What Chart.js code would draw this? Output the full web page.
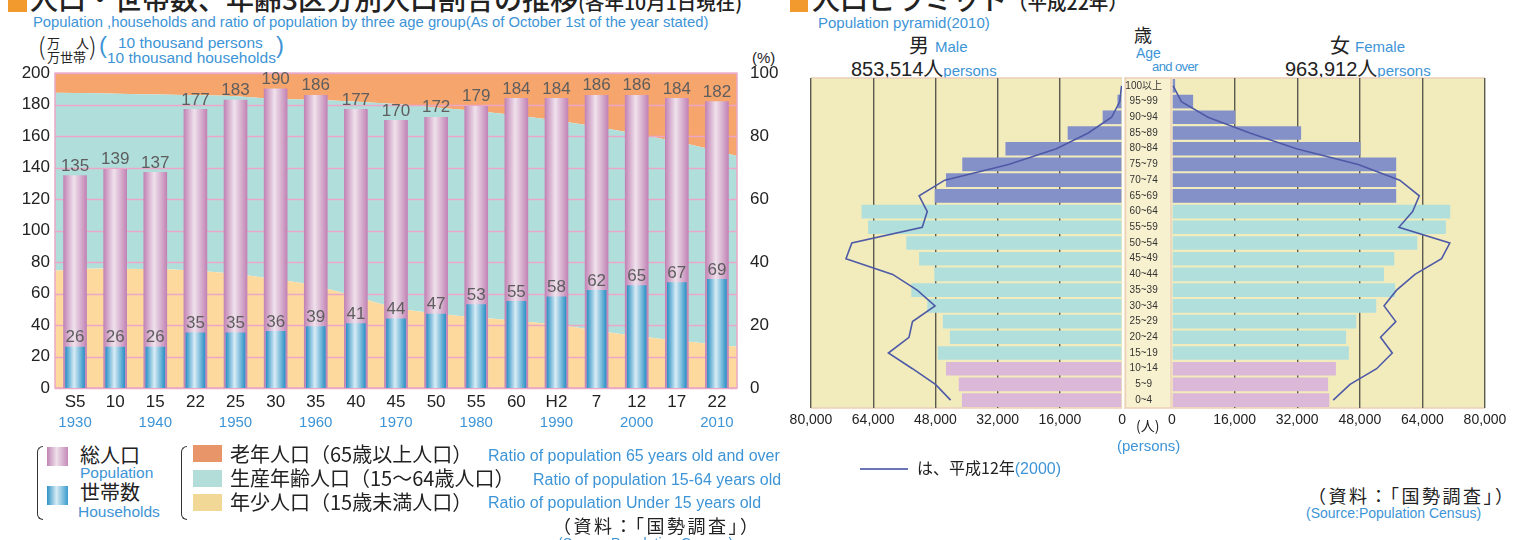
<!DOCTYPE html>
<html>
<head>
<meta charset="utf-8">
<script src="https://cdn.jsdelivr.net/npm/chart.js@4.4.0/dist/chart.umd.min.js"></script>
<style>
body{margin:0;width:1526px;height:540px;overflow:hidden;background:#fff;position:relative;
  font-family:"Liberation Sans",Arial,"Noto Sans CJK JP",sans-serif;color:#222}
.t{position:absolute;white-space:nowrap;line-height:1}
.jp{font-family:"Noto Sans CJK JP",sans-serif}
.bl{color:#3d94d6}
.box{position:absolute}
.sq{position:absolute;background:#f39a2e}
.brk{position:absolute;border:1.5px solid #333;border-right:none;border-radius:7px 0 0 7px;width:5px}
</style>
</head>
<body>

<!-- left panel headings -->
<div class="sq" style="left:8px;top:-6px;width:19px;height:18px"></div>
<div class="t jp" style="left:30px;top:-16px;font-size:28px;font-weight:500">人口・世帯数、年齢3区分別人口割合の推移<span style="font-size:19.5px">(各年10月1日現在)</span></div>
<div class="t bl" style="left:33px;top:15px;font-size:14.8px">Population ,households and ratio of population by three age group(As of October 1st of the year stated)</div>
<div class="t jp" style="left:38px;top:33px;font-size:24px;font-weight:300">(</div>
<div class="t jp" style="left:47px;top:36px;font-size:13px">万　 人</div>
<div class="t jp" style="left:47px;top:50px;font-size:13px">万世帯</div>
<div class="t jp" style="left:89px;top:33px;font-size:24px;font-weight:300">)</div>
<div class="t bl" style="left:99px;top:33px;font-size:24px;font-weight:300">(</div>
<div class="t bl" style="left:118px;top:35px;font-size:15.5px">10 thousand persons</div>
<div class="t bl" style="left:107px;top:50px;font-size:15.5px">10 thousand households</div>
<div class="t bl" style="left:276px;top:33px;font-size:24px;font-weight:300">)</div>
<div class="t" style="left:752px;top:50px;font-size:15px">(%)</div>

<div class="box" style="left:0;top:50px;width:800px;height:390px"><canvas id="trend"></canvas></div>

<!-- left legend -->
<div class="brk" style="left:37px;top:446px;height:72px"></div>
<div class="box" style="left:47px;top:447px;width:21px;height:19px;background:linear-gradient(90deg,#c084b4,#eedfea 45%,#c48ab8)"></div>
<div class="t jp" style="left:80px;top:445px;font-size:20px">総人口</div>
<div class="t bl" style="left:80px;top:465px;font-size:15.5px">Population</div>
<div class="box" style="left:47px;top:486px;width:21px;height:19px;background:linear-gradient(90deg,#2f93c6,#d6ebf4 45%,#3a9dce)"></div>
<div class="t jp" style="left:80px;top:482px;font-size:20px">世帯数</div>
<div class="t bl" style="left:78px;top:504px;font-size:15.5px">Households</div>
<div class="brk" style="left:181px;top:446px;height:72px"></div>
<div class="box" style="left:193px;top:445px;width:29px;height:17px;background:#e9956a"></div>
<div class="t jp" style="left:230px;top:444px;font-size:20px">老年人口（65歳以上人口）</div>
<div class="t bl" style="left:488px;top:448px;font-size:16px">Ratio of population 65 years old and over</div>
<div class="box" style="left:193px;top:470px;width:29px;height:17px;background:#b2ddd8"></div>
<div class="t jp" style="left:230px;top:468px;font-size:20px">生産年齢人口（15～64歳人口）</div>
<div class="t bl" style="left:533px;top:472px;font-size:16px">Ratio of population 15-64 years old</div>
<div class="box" style="left:193px;top:494px;width:29px;height:17px;background:#f1d896"></div>
<div class="t jp" style="left:230px;top:492px;font-size:20px">年少人口（15歳未満人口）</div>
<div class="t bl" style="left:488px;top:495px;font-size:16px">Ratio of population Under 15 years old</div>
<div class="t jp" style="left:553px;top:516px;font-size:18px;letter-spacing:2.5px">（資料：「国勢調査」）</div>
<div class="t bl" style="left:558px;top:536px;font-size:14px">(Source:Population Census)</div>

<!-- right panel headings -->
<div class="sq" style="left:790px;top:-6px;width:18px;height:18px"></div>
<div class="t jp" style="left:812px;top:-16px;font-size:28px;font-weight:500">人口ピラミッド<span style="font-size:19.5px">（平成22年）</span></div>
<div class="t bl" style="left:818px;top:15px;font-size:15px">Population pyramid(2010)</div>
<div class="t jp" style="left:909px;top:35px;font-size:20px">男</div>
<div class="t bl" style="left:935px;top:39px;font-size:15px">Male</div>
<div class="t" style="left:851px;top:58px;font-size:20px">853,514<span class="jp">人</span><span class="bl" style="font-size:15px">persons</span></div>
<div class="t jp" style="left:1134px;top:25px;font-size:18px">歳</div>
<div class="t bl" style="left:1136px;top:46px;font-size:14px">Age</div>
<div class="t bl" style="left:1152px;top:60px;font-size:13px;letter-spacing:-0.6px">and over</div>
<div class="t jp" style="left:1330px;top:35px;font-size:20px">女</div>
<div class="t bl" style="left:1355px;top:39px;font-size:15px">Female</div>
<div class="t" style="left:1285px;top:58px;font-size:20px">963,912<span class="jp">人</span><span class="bl" style="font-size:15px">persons</span></div>

<div class="box" style="left:770px;top:70px;width:360px;height:360px"><canvas id="male"></canvas></div>
<div class="box" style="left:1124px;top:70px;width:390px;height:360px"><canvas id="female"></canvas></div>

<div class="t jp" style="left:1136px;top:418px;font-size:14px">(人)</div>
<div class="t bl" style="left:1117px;top:438px;font-size:15px">(persons)</div>
<div class="box" style="left:860px;top:468px;width:48px;height:2px;background:#6a76b8"></div>
<div class="t jp" style="left:917px;top:459px;font-size:16px">は、平成12年<span class="bl" style="font-family:'Liberation Sans',Arial">(2000)</span></div>
<div class="t jp" style="left:1308px;top:486px;font-size:18px;letter-spacing:2.5px">（資料：「国勢調査」）</div>
<div class="t bl" style="left:1306px;top:506px;font-size:14px">(Source:Population Census)</div>

<script>
// ---- left chart data ----
var eras = ["S5", "10", "15", "22", "25", "30", "35", "40", "45", "50", "55", "60", "H2", "7", "12", "17", "22"];
var years = ["1930", "", "1940", "", "1950", "", "1960", "", "1970", "", "1980", "", "1990", "", "2000", "", "2010"];
var population = [135, 139, 137, 177, 183, 190, 186, 177, 170, 172, 179, 184, 184, 186, 186, 184, 182];
var households = [26, 26, 26, 35, 35, 36, 39, 41, 44, 47, 53, 55, 58, 62, 65, 67, 69];
var youthPct = [37.3, 38.0, 37.8, 37.5, 36.5, 34.9, 32.8, 29.2, 25.5, 23.6, 22.3, 21.1, 19.7, 17.6, 16.0, 14.5, 13.1];
var workingPct = [56.5, 55.6, 55.5, 55.6, 56.3, 57.1, 58.8, 61.8, 64.7, 65.4, 65.5, 65.2, 64.8, 64.7, 63.8, 62.5, 60.6];
var elderlyPct = [6.2, 6.4, 6.7, 6.9, 7.2, 8.0, 8.4, 9.0, 9.8, 11.0, 12.2, 13.7, 15.5, 17.7, 20.2, 23.0, 26.3];

// ---- pyramid data (top row first) ----
var ages = ["100以上", "95~99", "90~94", "85~89", "80~84", "75~79", "70~74", "65~69", "60~64", "55~59", "50~54",
    "45~49", "40~44", "35~39", "30~34", "25~29", "20~24", "15~19", "10~14", "5~9", "0~4"];
var male2010 = [200, 1200, 5000, 14000, 30000, 41100, 45300, 48200, 67000, 65300, 55500, 52200, 48300, 54200, 50100, 46100, 44300, 47400, 45300, 42000, 41200];
var female2010 = [800, 5400, 16200, 33000, 48200, 57300, 57300, 57300, 71100, 70000, 62700, 56800, 54200, 57000, 52200, 47100, 44500, 45200, 41900, 39900, 40200];
var male2000 = [150, 600, 2700, 8700, 16900, 29200, 45600, 52200, 50100, 51400, 69500, 71000, 59000, 52700, 48100, 53900, 54800, 60100, 53900, 48000, 44100];
var female2000 = [300, 2400, 9200, 19900, 31800, 47600, 58200, 63200, 61500, 58000, 71000, 68900, 62100, 57400, 54200, 57200, 53300, 56300, 52300, 45500, 41200];

Chart.defaults.font.family = '"Liberation Sans", Arial, "Noto Sans CJK JP", sans-serif';
Chart.defaults.color = '#222';

// cylinder look for the bars
function cylinder(edge, mid, w) {
    return function (ctx) {
        var chart = ctx.chart;
        if (!chart.chartArea || ctx.dataIndex === undefined) return edge;
        var x = chart.scales.x.getPixelForValue(ctx.dataIndex);
        var g = chart.ctx.createLinearGradient(x - w / 2, 0, x + w / 2, 0);
        g.addColorStop(0, edge);
        g.addColorStop(0.45, mid);
        g.addColorStop(1, edge);
        return g;
    };
}

var pinkGrid = {
    id: 'pinkGrid',
    beforeDatasetDraw(chart, args) {
        if (args.index !== 0) return;
        var c = chart.ctx, a = chart.chartArea, y = chart.scales.y;
        c.save();
        c.strokeStyle = '#eaa8c6';
        c.lineWidth = 1.5;
        y.ticks.forEach(t => {
            var py = Math.round(y.getPixelForValue(t.value)) + 0.5;
            c.beginPath(); c.moveTo(a.left, py); c.lineTo(a.right, py); c.stroke();
        });
        c.strokeRect(a.left, a.top, a.right - a.left, a.bottom - a.top);
        c.restore();
    }
};

var barLabels = {
    id: 'barLabels',
    afterDatasetsDraw(chart) {
        var c = chart.ctx;
        c.save();
        c.font = '17px "Liberation Sans", Arial';
        c.fillStyle = '#5e5e5e';
        c.textAlign = 'center';
        c.textBaseline = 'bottom';
        [0, 1].forEach(i => {
            chart.getDatasetMeta(i).data.forEach((bar, j) => {
                c.fillText(chart.data.datasets[i].data[j], chart.scales.x.getPixelForValue(j), bar.y - 1);
            });
        });
        c.restore();
    }
};

function pts(arr) { return arr.map((v, i) => ({ x: i, y: v })); }

new Chart(document.getElementById('trend'), {
    type: 'bar',
    data: {
        labels: eras,
        datasets: [
            { label: '総人口', data: population, order: 2, grouped: false, barThickness: 23,
              backgroundColor: cylinder('#c283b5', '#efe2ec', 23) },
            { label: '世帯数', data: households, order: 1, grouped: false, barThickness: 19,
              backgroundColor: cylinder('#2e92c6', '#d8ecf5', 19) },
            { type: 'line', label: '年少人口', data: pts(youthPct), xAxisID: 'xa', yAxisID: 'yp', order: 10,
              backgroundColor: '#fdd99d', fill: 'origin', borderWidth: 0, pointRadius: 0, cubicInterpolationMode: 'monotone' },
            { type: 'line', label: '生産年齢人口', data: pts(workingPct), xAxisID: 'xa', yAxisID: 'yp', order: 10,
              backgroundColor: '#b0dedb', fill: '-1', borderWidth: 0, pointRadius: 0, cubicInterpolationMode: 'monotone' },
            { type: 'line', label: '老年人口', data: pts(elderlyPct), xAxisID: 'xa', yAxisID: 'yp', order: 10,
              backgroundColor: '#f6a56d', fill: '-1', borderWidth: 0, pointRadius: 0, cubicInterpolationMode: 'monotone' }
        ]
    },
    options: {
        responsive: true,
        maintainAspectRatio: false,
        animation: false,
        layout: { padding: { top: 20, bottom: 7, left: 0, right: 0 } },
        plugins: { legend: { display: false }, tooltip: { enabled: false } },
        scales: {
            x: {
                position: 'bottom',
                grid: { display: false, drawTicks: false },
                border: { display: false },
                ticks: { font: { size: 17 }, color: '#222', padding: 4, maxRotation: 0, autoSkip: false },
                afterFit: s => { s.height = 26; }
            },
            x2: {
                type: 'category',
                labels: years,
                position: 'bottom',
                weight: 1,
                grid: { display: false, drawTicks: false },
                border: { display: false },
                ticks: { font: { size: 15 }, color: '#3d94d6', padding: 0, maxRotation: 0, autoSkip: false },
                afterFit: s => { s.height = 19; }
            },
            xa: { type: 'linear', display: false, min: 0, max: 16, offset: false },
            y: {
                position: 'left',
                min: 0, max: 200,
                grid: { display: false, drawTicks: false },
                border: { display: false },
                ticks: { stepSize: 20, font: { size: 17 }, color: '#222', padding: 5 },
                afterFit: s => { s.width = 55; }
            },
            yp: {
                position: 'right',
                stacked: true,
                min: 0, max: 100,
                grid: { display: false, drawTicks: false },
                border: { display: false },
                ticks: { stepSize: 20, font: { size: 17 }, color: '#222', padding: 13 },
                afterFit: s => { s.width = 63; }
            }
        }
    },
    plugins: [pinkGrid, barLabels]
});

// ---- pyramid ----
function ageColor(i) {
    if (i < 8) return '#8490c8';
    if (i < 18) return '#b1dfdc';
    return '#dcb8d8';
}
var ageColors = ages.map((a, i) => ageColor(i));

var pyrBack = {
    id: 'pyrBack',
    beforeDraw(chart, args, opts) {
        var c = chart.ctx, a = chart.chartArea;
        c.save();
        c.fillStyle = '#f2ecbd';
        c.fillRect(a.left, a.top, a.right - a.left, a.bottom - a.top);
        c.strokeStyle = '#ebd0bb';
        c.lineWidth = 1.5;
        if (opts.column) {
            var y = chart.scales.y;
            c.fillStyle = '#f8f1cf';
            c.fillRect(y.left, a.top, y.right - y.left, a.bottom - a.top);
            [y.left + 1.5, y.right - 1].forEach(px => {
                c.beginPath(); c.moveTo(px, a.top); c.lineTo(px, a.bottom); c.stroke();
            });
            c.beginPath(); c.moveTo(y.left, a.top); c.lineTo(a.right, a.top);
            c.moveTo(y.left, a.bottom); c.lineTo(a.right, a.bottom); c.stroke();
        } else {
            c.beginPath(); c.moveTo(a.left, a.top); c.lineTo(a.right, a.top);
            c.moveTo(a.left, a.bottom); c.lineTo(a.right, a.bottom); c.stroke();
        }
        c.restore();
    }
};

function pyramid(id, now, then, isMale) {
    return new Chart(document.getElementById(id), {
        type: 'bar',
        data: {
            labels: ages,
            datasets: [
                { type: 'line', data: then, indexAxis: 'y', order: 0, borderColor: '#4e5aa6', borderWidth: 1.6,
                  pointRadius: 0, fill: false, tension: 0 },
                { data: now, order: 1, backgroundColor: ageColors, barPercentage: 0.87, categoryPercentage: 1 }
            ]
        },
        options: {
            indexAxis: 'y',
            responsive: true,
            maintainAspectRatio: false,
            animation: false,
            layout: { padding: isMale ? { top: 8, left: 41, right: 6, bottom: 0 } : { top: 8, left: 0, right: 29, bottom: 0 } },
            plugins: { legend: { display: false }, tooltip: { enabled: false }, pyrBack: { column: !isMale } },
            scales: {
                x: {
                    min: 0, max: 80000,
                    reverse: isMale,
                    grid: {
                        drawTicks: false,
                        lineWidth: 1.4,
                        color: ctx => (ctx.tick && ctx.tick.value === 0) ? 'rgba(0,0,0,0)' : '#5b5a4e'
                    },
                    border: { display: false },
                    ticks: { stepSize: 16000, font: { size: 14 }, color: '#222', padding: 4,
                        callback: v => v.toLocaleString('en-US') },
                    afterFit: s => { s.height = 22; }
                },
                y: isMale ? { display: false, grid: { display: false } } : {
                    grid: { display: false },
                    border: { display: false },
                    ticks: { font: { size: 10, family: '"Liberation Sans Narrow", "Liberation Sans", Arial, "Noto Sans CJK JP"' },
                        color: '#333', crossAlign: 'center', padding: 2, autoSkip: false },
                    afterFit: s => { s.width = 48; }
                }
            }
        },
        plugins: [pyrBack]
    });
}

pyramid('male', male2010, male2000, true);
pyramid('female', female2010, female2000, false);
</script>
</body>
</html>
